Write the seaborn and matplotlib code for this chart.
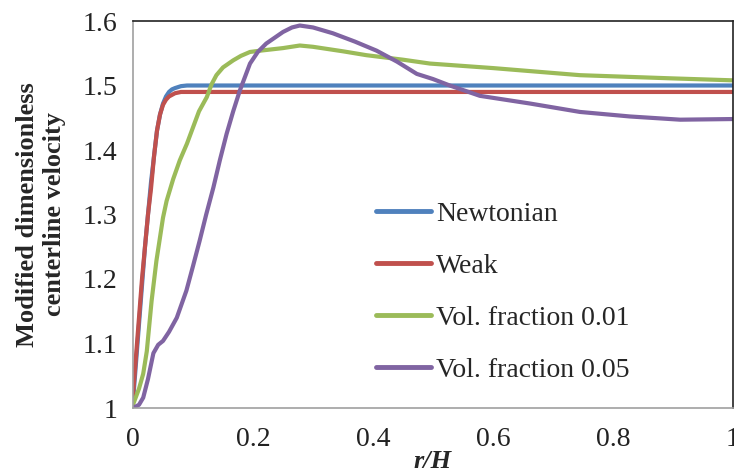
import matplotlib
matplotlib.use("Agg")
import matplotlib.pyplot as plt
import seaborn as sns
import pandas as pd

# ---- data ----
r_newt = [0, 0.005, 0.01, 0.015, 0.02, 0.025, 0.03, 0.035, 0.04, 0.045, 0.05, 0.055, 0.06, 0.065, 0.07, 0.08, 0.09, 0.1, 0.2, 0.4, 0.6, 0.8, 1.0]
v_newt = [1.01, 1.07, 1.13, 1.19, 1.25, 1.30, 1.35, 1.39, 1.43, 1.455, 1.472, 1.483, 1.49, 1.494, 1.496, 1.499, 1.5, 1.5, 1.5, 1.5, 1.5, 1.5, 1.5]

r_weak = [0, 0.005, 0.01, 0.015, 0.02, 0.025, 0.03, 0.035, 0.04, 0.045, 0.05, 0.055, 0.06, 0.07, 0.08, 0.1, 0.2, 0.4, 0.6, 0.8, 1.0]
v_weak = [1.02, 1.08, 1.14, 1.20, 1.25, 1.30, 1.34, 1.39, 1.43, 1.455, 1.47, 1.478, 1.483, 1.488, 1.49, 1.49, 1.49, 1.49, 1.49, 1.49, 1.49]

r_v01 = [0, 0.01, 0.017, 0.023, 0.031, 0.039, 0.05, 0.056, 0.067, 0.078, 0.09, 0.1, 0.11, 0.123, 0.131, 0.139, 0.15, 0.167,
         0.18, 0.195, 0.212, 0.25, 0.278, 0.3, 0.35, 0.389, 0.45, 0.495, 0.6, 0.745, 0.9, 1.0]
v_v01 = [1.005, 1.03, 1.053, 1.088, 1.166, 1.228, 1.295, 1.321, 1.355, 1.384, 1.41, 1.435, 1.46, 1.482, 1.502, 1.516, 1.528, 1.539,
         1.546, 1.552, 1.554, 1.558, 1.562, 1.56, 1.553, 1.547, 1.54, 1.534, 1.527, 1.516, 1.511, 1.508]

r_v05 = [0, 0.01, 0.017, 0.025, 0.034, 0.042, 0.05, 0.06, 0.073, 0.089, 0.1, 0.111, 0.122, 0.134, 0.145, 0.156, 0.167, 0.178,
         0.195, 0.208, 0.222, 0.25, 0.265, 0.278, 0.3, 0.333, 0.37, 0.406, 0.44, 0.473, 0.5, 0.528, 0.578, 0.662, 0.745, 0.828, 0.912, 1.0]
v_v05 = [1.0, 1.005, 1.016, 1.045, 1.085, 1.098, 1.104, 1.118, 1.14, 1.182, 1.22, 1.259, 1.3, 1.342, 1.385, 1.425, 1.46, 1.492,
         1.534, 1.552, 1.565, 1.583, 1.59, 1.593, 1.59, 1.581, 1.568, 1.554, 1.537, 1.518, 1.51, 1.5, 1.484, 1.472, 1.459, 1.452, 1.447, 1.448]

labels = ["Newtonian", "Weak", "Vol. fraction 0.01", "Vol. fraction 0.05"]
colors = ["#4F81BD", "#C0504D", "#9BBB59", "#8064A2"]
x_ticks = [0, 0.2, 0.4, 0.6, 0.8, 1.0]
x_ticklabels = ["0", "0.2", "0.4", "0.6", "0.8", "1"]
y_ticks = [1.0, 1.1, 1.2, 1.3, 1.4, 1.5, 1.6]
y_ticklabels = ["1", "1.1", "1.2", "1.3", "1.4", "1.5", "1.6"]

series = [(r_newt, v_newt), (r_weak, v_weak), (r_v01, v_v01), (r_v05, v_v05)]
frames = []
for lab, (rr, vv) in zip(labels, series):
    frames.append(pd.DataFrame({"r": rr, "v": vv, "series": lab}))
df = pd.concat(frames, ignore_index=True)

sns.set_theme(style="white")
plt.rcParams["font.family"] = ["Liberation Serif", "DejaVu Serif"]

fig = plt.figure(figsize=(7.34, 4.75), dpi=100)
ax = fig.add_axes([133 / 734, 1 - 408 / 475, 600 / 734, 387 / 475])

sns.lineplot(data=df, x="r", y="v", hue="series", hue_order=labels,
             palette=colors, linewidth=3.0, sort=False, estimator=None, ax=ax)
for ln in ax.get_lines():
    ln.set_solid_joinstyle("round")
    ln.set_solid_capstyle("round")

ax.set_xlim(0, 1)
ax.set_ylim(1, 1.6)
ax.set_xticks(x_ticks)
ax.set_xticklabels(x_ticklabels)
ax.set_yticks(y_ticks)
ax.set_yticklabels(y_ticklabels)
ax.tick_params(axis="both", which="major", labelsize=20, length=7, width=1.0,
               color="#A0A0A0", direction="out", labelcolor="#222222")
ax.tick_params(axis="x", pad=7)
ax.tick_params(axis="y", pad=4)

for side in ["left", "bottom"]:
    ax.spines[side].set_color("#A0A0A0")
    ax.spines[side].set_linewidth(1.2)
for side in ["top", "right"]:
    ax.spines[side].set_color("#222222")
    ax.spines[side].set_linewidth(1.2)
    ax.spines[side].set_visible(True)

ax.set_xlabel("r/H", fontsize=19, fontweight="bold", fontstyle="italic", labelpad=-2)
ax.set_ylabel("Modified dimensionless\ncenterline velocity", fontsize=19,
              fontweight="bold", labelpad=12, linespacing=1.25)

leg = ax.legend(loc="upper left", bbox_to_anchor=(0.363, 0.598), frameon=False,
                fontsize=20, handlelength=1.98, handletextpad=0.18, labelspacing=0.95)
for line in leg.get_lines():
    line.set_linewidth(3.5)

fig.savefig("out.png", dpi=100)
